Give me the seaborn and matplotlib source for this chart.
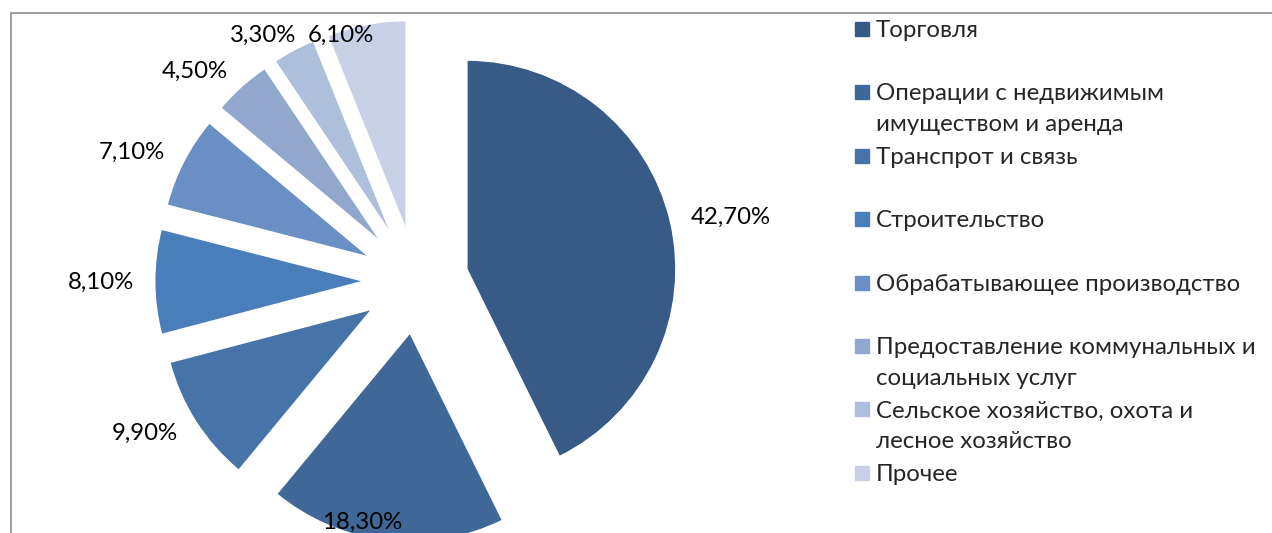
import matplotlib
matplotlib.use('Agg')
import matplotlib.pyplot as plt
from matplotlib.patches import Rectangle
import seaborn as sns

sns.set_theme(style='white')
plt.rcParams['font.family'] = ['Lato', 'DejaVu Sans']

# данные
sectors = ['Торговля',
           'Операции с недвижимым\nимуществом и аренда',
           'Транспрот и связь',
           'Строительство',
           'Обрабатывающее производство',
           'Предоставление коммунальных и\nсоциальных услуг',
           'Сельское хозяйство, охота и\nлесное хозяйство',
           'Прочее']
shares = [42.7, 18.3, 9.9, 8.1, 7.1, 4.5, 3.3, 6.1]
colors = ['#375a86', '#3f6797', '#4673a8', '#4a7ebb',
          '#6a8fc4', '#91a7ce', '#aebfdc', '#c7d0e5']

W, H = 1272, 533
fig = plt.figure(figsize=(W / 100, H / 100), dpi=100)
ax = fig.add_axes([0, 0, 1, 1])

# центр круга и радиус в пикселях
cx, cy, rad = 416, 281, 209
fs = 17.3

labels = [f'{v:.2f}%'.replace('.', ',') for v in shares]
wedges, texts = ax.pie(shares, labels=labels, colors=colors,
                       startangle=90, counterclock=False,
                       explode=[0.25] * len(shares), labeldistance=1.1,
                       textprops={'fontsize': fs, 'color': 'black'})

ax.set_xlim(-cx / rad, (W - cx) / rad)
ax.set_ylim(-(H - cy) / rad, cy / rad)
ax.axis('off')

# подписи, которые выходят за край, сдвигаем внутрь
ytop = (cy - 35) / rad
ybot = -(522 - cy) / rad
for t in texts:
    x, y = t.get_position()
    if y > ytop or y < ybot:
        t.set_position((x - 0.1, min(max(y, ybot), ytop)))
        t.set_ha('center')

# рамка области диаграммы
fig.add_artist(Rectangle((10.5 / W, -0.2), 1.5, (H - 13) / H + 0.2,
                         transform=fig.transFigure, fill=False,
                         edgecolor='#8c8c8c', linewidth=1.2))

# легенда
lx, ly, step = 855, 29, 63.4
for i, (name, col) in enumerate(zip(sectors, colors)):
    y = ly + i * step
    fig.add_artist(Rectangle((lx / W, 1 - (y + 7) / H), 14 / W, 14 / H,
                             transform=fig.transFigure, color=col))
    fig.text(876 / W, 1 - (y - 9) / H, name, fontsize=fs, va='top',
             ha='left', linespacing=1.58)

fig.savefig('out.png', dpi=100)
